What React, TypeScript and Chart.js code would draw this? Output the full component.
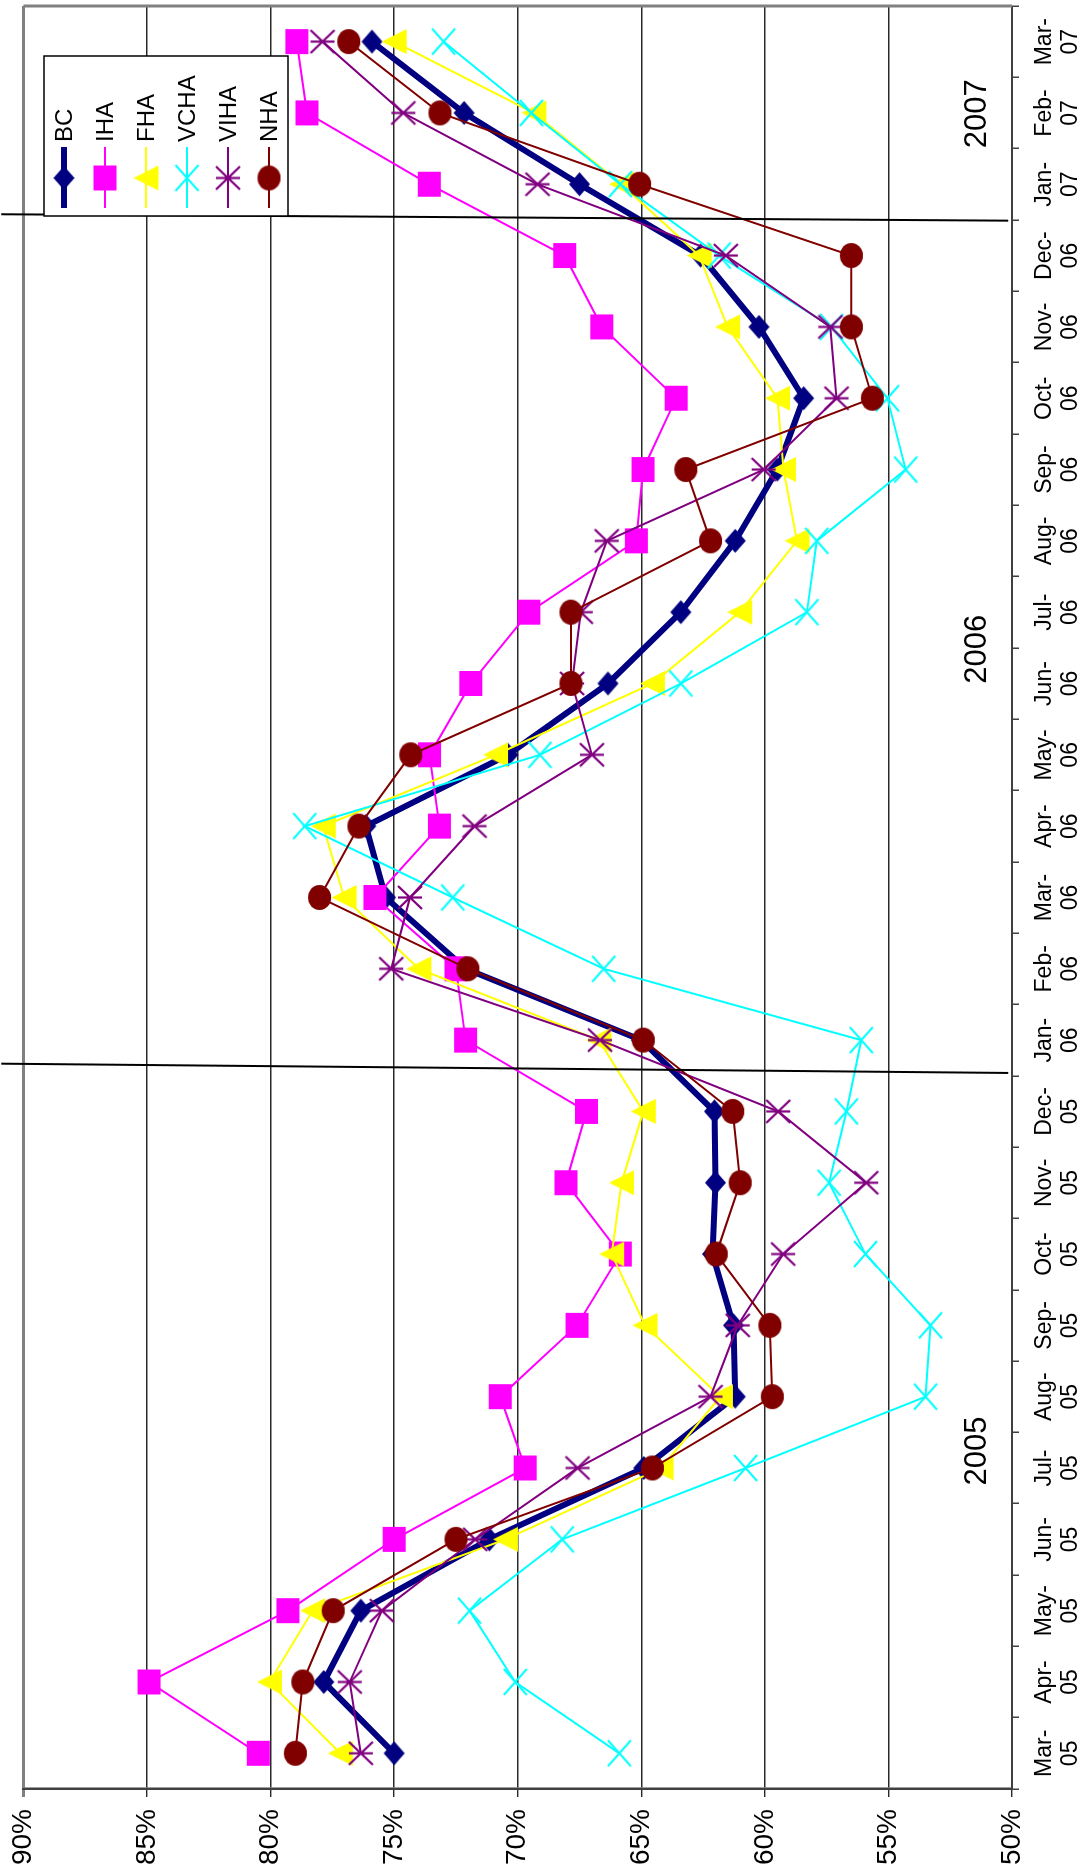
import React, { useEffect, useRef } from 'react';
import { Chart, registerables } from 'chart.js';

Chart.register(...registerables);

// ---------------- data ----------------
const categories = [
  'Mar-05', 'Apr-05', 'May-05', 'Jun-05', 'Jul-05', 'Aug-05', 'Sep-05', 'Oct-05', 'Nov-05', 'Dec-05',
  'Jan-06', 'Feb-06', 'Mar-06', 'Apr-06', 'May-06', 'Jun-06', 'Jul-06', 'Aug-06', 'Sep-06', 'Oct-06',
  'Nov-06', 'Dec-06', 'Jan-07', 'Feb-07', 'Mar-07',
];

const seriesNames = ['BC', 'IHA', 'FHA', 'VCHA', 'VIHA', 'NHA'];

const bcValues = [75.0, 77.85, 76.35, 71.15, 64.9, 61.2, 61.27, 62.12, 62.0, 62.04, 65.0, 72.1, 75.35, 76.15, 70.4, 66.35, 63.4, 61.2, 59.5, 58.43, 60.24, 62.6, 67.5, 72.17, 75.9];
const ihaValues = [80.5, 84.92, 79.3, 75.0, 69.7, 70.71, 67.6, 65.85, 68.05, 67.22, 72.11, 72.5, 75.78, 73.17, 73.57, 71.9, 69.55, 65.2, 64.93, 63.59, 66.6, 68.1, 73.58, 78.53, 78.94];
const fhaValues = [77.18, 80.05, 78.3, 70.5, 64.2, 61.8, 64.85, 66.2, 65.8, 64.92, 66.72, 74.0, 77.03, 77.87, 70.9, 64.55, 61.02, 58.7, 59.25, 59.49, 61.51, 62.66, 65.8, 69.35, 75.0];
const vchaValues = [65.89, 70.1, 71.95, 68.2, 60.78, 53.5, 53.3, 55.93, 57.4, 56.7, 56.1, 66.52, 72.63, 78.62, 69.1, 63.4, 58.3, 57.9, 54.3, 55.04, 57.3, 61.85, 65.85, 69.45, 73.0];
const vihaValues = [76.35, 76.8, 75.5, 71.72, 67.58, 62.2, 61.1, 59.26, 55.9, 59.46, 66.67, 75.12, 74.36, 71.75, 67.0, 67.8, 67.45, 66.4, 60.05, 57.1, 57.35, 61.58, 69.2, 74.63, 77.9];
const nhaValues = [79.0, 78.7, 77.47, 72.5, 64.55, 59.7, 59.8, 61.97, 61.0, 61.3, 64.92, 72.02, 78.02, 76.43, 74.33, 67.85, 67.85, 62.2, 63.2, 55.65, 56.5, 56.5, 65.07, 73.15, 76.84];

const yMin = 50;
const yMax = 90;
const yStep = 5;

const yearLabels = ['2005', '2006', '2007'];
// category position (index units) where each year label sits
const yearAnchors = [4.24, 15.48, 22.99];
// year-boundary separator lines: [index at top, index at bottom]
const dividerAnchors: [number, number][] = [[9.67, 9.54], [21.58, 21.49]];

// ---------------- styles ----------------
const PAGE_H = 1873; // page height (the canvas' long side after rotation)
const W = 1883; // canvas width, drawn landscape then rotated; the last 10px fall off the top of the page
const H = 1079;
const FONT = '"Liberation Sans", Arial, Helvetica, sans-serif';

const seriesColors = ['#000080', '#FF00FF', '#FFFF00', '#00FFFF', '#800080', '#800000'];
const seriesWidths = [6, 2, 2, 2, 2, 2];
const seriesShapes = ['diamond', 'square', 'triangle', 'x', 'star', 'circle'];
const shapeSizes: Record<string, [number, number]> = {
  diamond: [24, 21],
  square: [25, 23],
  triangle: [25, 25],
  x: [26, 23],
  star: [23, 24],
  circle: [25, 23],
};

function makeMarker(shape: string, color: string): HTMLCanvasElement {
  const [w, h] = shapeSizes[shape];
  const pad = 3;
  const c = document.createElement('canvas');
  c.width = Math.ceil(w + pad * 2);
  c.height = Math.ceil(h + pad * 2);
  const g = c.getContext('2d')!;
  const cx = c.width / 2;
  const cy = c.height / 2;
  g.fillStyle = color;
  g.strokeStyle = color;
  g.lineWidth = 2.2;
  g.beginPath();
  switch (shape) {
    case 'diamond':
      g.moveTo(cx, cy - h / 2);
      g.lineTo(cx + w / 2, cy);
      g.lineTo(cx, cy + h / 2);
      g.lineTo(cx - w / 2, cy);
      g.closePath();
      g.fill();
      break;
    case 'square':
      g.fillRect(cx - w / 2, cy - h / 2, w, h);
      break;
    case 'triangle':
      g.moveTo(cx, cy - h / 2);
      g.lineTo(cx + w / 2, cy + h / 2);
      g.lineTo(cx - w / 2, cy + h / 2);
      g.closePath();
      g.fill();
      break;
    case 'x':
      g.moveTo(cx - w / 2, cy - h / 2);
      g.lineTo(cx + w / 2, cy + h / 2);
      g.moveTo(cx + w / 2, cy - h / 2);
      g.lineTo(cx - w / 2, cy + h / 2);
      g.stroke();
      break;
    case 'star':
      g.moveTo(cx - w / 2, cy - h / 2);
      g.lineTo(cx + w / 2, cy + h / 2);
      g.moveTo(cx + w / 2, cy - h / 2);
      g.lineTo(cx - w / 2, cy + h / 2);
      g.moveTo(cx, cy - h / 2);
      g.lineTo(cx, cy + h / 2);
      g.stroke();
      break;
    case 'circle':
      g.ellipse(cx, cy, w / 2, h / 2, 0, 0, Math.PI * 2);
      g.fill();
      break;
  }
  return c;
}

function makeOverlayPlugin(markers: HTMLCanvasElement[]) {
  return {
    id: 'overlay',
    afterDatasetsDraw(chart: any) {
      const { ctx, chartArea } = chart;
      const xs = chart.scales.x;
      const ys = chart.scales.y;
      ctx.save();
      // far frame edge (top of the rotated picture)
      ctx.strokeStyle = '#808080';
      ctx.lineWidth = 3;
      ctx.beginPath();
      ctx.moveTo(chartArea.right, chartArea.top);
      ctx.lineTo(chartArea.right, chartArea.bottom);
      ctx.stroke();

      // year separators
      ctx.strokeStyle = '#000';
      ctx.lineWidth = 2;
      const yTop = ys.getPixelForValue(90.9);
      const yBot = ys.getPixelForValue(50.15);
      dividerAnchors.forEach(([a, b]) => {
        ctx.beginPath();
        ctx.moveTo(xs.getPixelForValue(a), yTop);
        ctx.lineTo(xs.getPixelForValue(b), yBot);
        ctx.stroke();
      });

      // year labels
      ctx.fillStyle = '#000';
      ctx.font = `31px ${FONT}`;
      ctx.textAlign = 'center';
      ctx.textBaseline = 'middle';
      const yy = ys.getPixelForValue(51.4);
      yearLabels.forEach((t, i) => {
        ctx.fillText(t, xs.getPixelForValue(yearAnchors[i]), yy);
      });
      ctx.restore();
    },
    afterDraw(chart: any) {
      const { ctx, chartArea } = chart;
      ctx.save();
      const left = chartArea.right - 210;
      const top = chartArea.top + 20.5;
      const bw = 160;
      const bh = 244;
      ctx.fillStyle = '#fff';
      ctx.fillRect(left, top, bw, bh);
      ctx.strokeStyle = '#000';
      ctx.lineWidth = 1.5;
      ctx.strokeRect(left, top, bw, bh);
      ctx.font = `24px ${FONT}`;
      ctx.textAlign = 'left';
      ctx.textBaseline = 'middle';
      seriesNames.forEach((name, i) => {
        const y = top + 20 + i * 41;
        ctx.strokeStyle = seriesColors[i];
        ctx.lineWidth = seriesWidths[i];
        ctx.beginPath();
        ctx.moveTo(left + 8, y);
        ctx.lineTo(left + 69, y);
        ctx.stroke();
        const m = markers[i];
        if (m) ctx.drawImage(m, left + 38 - m.width / 2, y - m.height / 2);
        ctx.fillStyle = '#000';
        ctx.fillText(name, left + 74, y + 1);
      });
      ctx.restore();
    },
  };
}

export default function App() {
  const ref = useRef<HTMLCanvasElement>(null);

  useEffect(() => {
    document.body.style.margin = '0';
    document.documentElement.style.overflow = 'hidden';
    const markers = seriesShapes.map((s, i) => makeMarker(s, seriesColors[i]));
    const allValues = [bcValues, ihaValues, fhaValues, vchaValues, vihaValues, nhaValues];
    const datasets = seriesNames.map((name, i) => ({
      label: name,
      data: allValues[i],
      borderColor: seriesColors[i],
      backgroundColor: seriesColors[i],
      borderWidth: seriesWidths[i],
      pointStyle: markers[i] as any,
      pointRadius: 10,
      pointHoverRadius: 10,
      tension: 0,
      order: seriesNames.length - i,
    }));

    const chart: any = new Chart(ref.current!, {
      type: 'line',
      data: {
        labels: categories.map((c) => {
          const k = c.indexOf('-');
          return [c.slice(0, k + 1), c.slice(k + 1)];
        }),
        datasets,
      },
      options: {
        animation: false,
        responsive: false,
        devicePixelRatio: 1,
        events: [],
        layout: { padding: { top: 23.5, right: 6, left: 0, bottom: 0 } },
        plugins: {
          legend: { display: false },
          tooltip: { enabled: false },
        },
        scales: {
          x: {
            type: 'category',
            offset: true,
            grid: {
              display: true,
              drawOnChartArea: false,
              drawTicks: true,
              tickLength: 7,
              offset: true,
              color: '#404040',
              lineWidth: 1.5,
            },
            border: { display: true, color: '#404040', width: 2 },
            ticks: {
              maxRotation: 0,
              minRotation: 0,
              autoSkip: false,
              padding: 13,
              color: '#000',
              font: { family: FONT, size: 23, lineHeight: 1.12 },
            },
            afterFit: (s: any) => {
              s.height = 67;
              s.paddingLeft = 0;
              s.paddingRight = 0;
            },
          },
          y: {
            min: yMin,
            max: yMax,
            ticks: {
              stepSize: yStep,
              padding: 12,
              color: '#000',
              font: { family: FONT, size: 28 },
              callback: (v: any) => `${v}%`,
            },
            grid: {
              color: (c: any) => (c.tick && c.tick.value === yMax ? '#808080' : '#2a2a2a'),
              lineWidth: (c: any) => (c.tick && c.tick.value === yMax ? 3 : 1.4),
              tickLength: 8,
              drawTicks: true,
            },
            border: { display: true, color: '#404040', width: 2.5 },
            afterFit: (s: any) => {
              s.width = 84;
              s.paddingTop = 0;
              s.paddingBottom = 0;
            },
          },
        },
      } as any,
      plugins: [makeOverlayPlugin(markers)],
    });

    return () => chart.destroy();
  }, []);

  return (
    <div
      style={{
        position: 'absolute',
        left: 0,
        top: 0,
        width: W,
        height: H,
        background: '#fff',
        transformOrigin: '0 0',
        transform: `translateY(${PAGE_H}px) rotate(-90deg)`,
      }}
    >
      <canvas ref={ref} width={W} height={H} style={{ display: 'block', width: W, height: H }} />
    </div>
  );
}
